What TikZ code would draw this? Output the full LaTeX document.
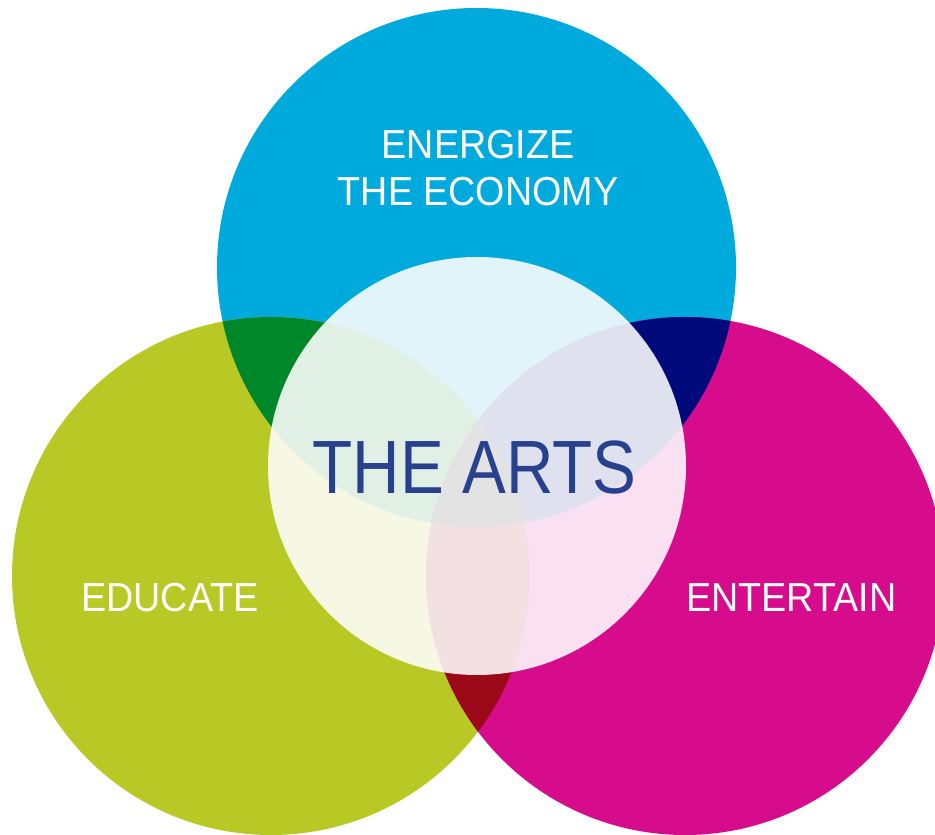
\documentclass[tikz,border=0pt]{standalone}
\usepackage{fontspec}
\setmainfont{Liberation Sans}
\newfontfamily\artsfont{Liberation Sans}[FakeStretch=0.87]
\newfontfamily\circfont{Liberation Sans}[FakeStretch=0.93]
\usetikzlibrary{positioning}
\definecolor{econblue}{HTML}{00AADD}
\definecolor{edugreen}{HTML}{B8C824}
\definecolor{entmagenta}{HTML}{D60C8C}
\definecolor{overgreen}{HTML}{00872A}
\definecolor{overnavy}{HTML}{000A7A}
\definecolor{overred}{HTML}{9B0818}
\definecolor{overall}{HTML}{1A1A1A}
\definecolor{artsblue}{HTML}{27418F}

\begin{document}
\begin{tikzpicture}[x=1pt,y=1pt,
  circlabel/.style={text=white,inner sep=0pt,align=center,font=\circfont\fontsize{40.5}{47}\selectfont},
  artslabel/.style={text=artsblue,inner sep=0pt,font=\artsfont\fontsize{75.5}{80}\selectfont}]
\useasboundingbox (0,0) rectangle (935,835);
\clip (0,0) rectangle (935,835);
%-------->centres<--------------
\coordinate (econ) at (476.5,567.5); % top
\coordinate (edu) at (271,259);      % left
\coordinate (ent) at (685,259);      % right
\coordinate (arts) at (477,369);     % middle
%-------->circles<--------------
\fill[econblue] (econ) circle (259.5);
\fill[edugreen] (edu) circle (259);
\fill[entmagenta] (ent) circle (259);
%-------->overlaps<--------------
\begin{scope}
  \clip (econ) circle (259.5);
  \fill[overgreen] (edu) circle (259);
  \fill[overnavy] (ent) circle (259);
\end{scope}
\begin{scope}
  \clip (edu) circle (259);
  \fill[overred] (ent) circle (259);
  \clip (ent) circle (259);
  \fill[overall] (econ) circle (259.5);
\end{scope}
%-------->the arts<--------------
\fill[white,opacity=0.88] (arts) circle (209);
%-------->labels<--------------
\node[circlabel] (econlabel) at (478,666.5) {ENERGIZE\\THE ECONOMY};
\node[circlabel] (edulabel) at (170,237.5) {EDUCATE};
\node[circlabel] (entlabel) at (791.5,237.5) {ENTERTAIN};
\node[artslabel] (artslabel) at (474.5,367) {THE ARTS};
\end{tikzpicture}
\end{document}
